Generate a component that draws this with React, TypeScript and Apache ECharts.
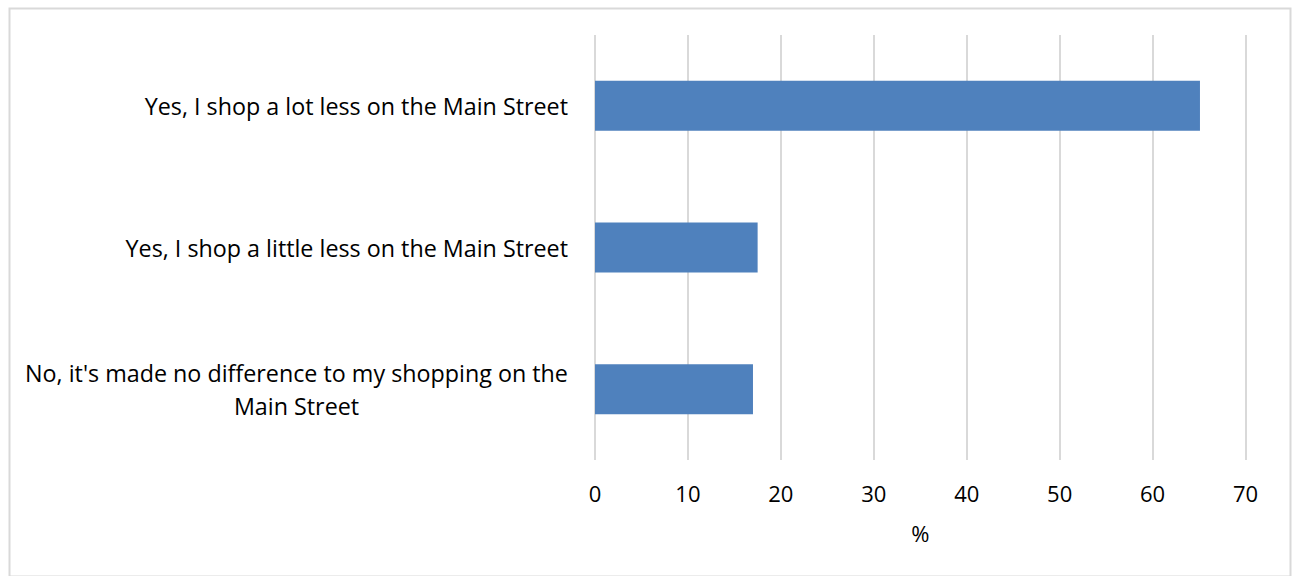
import React, { useEffect, useRef } from "react";
import * as echarts from "echarts";

const categories: string[] = [
  "Yes, I shop a lot less on the Main Street",
  "Yes, I shop a little less on the Main Street",
  "No, it's made no difference to my shopping on the\nMain Street",
];
const values: number[] = [65.1, 17.5, 17.0];
const xTicks = { min: 0, max: 70, interval: 10 };
const axisTitle = "%";

const FONT = "Open Sans";
const FS = 22;
const CFS = 23.3;

export default function App() {
  const ref = useRef<HTMLDivElement>(null);
  useEffect(() => {
    document.body.style.margin = "0";
    if (!ref.current) return;
    const chart = echarts.init(ref.current, undefined, { renderer: "svg" });
    chart.setOption({
      animation: false,
      backgroundColor: "#ffffff",
      textStyle: { fontFamily: FONT },
      graphic: [
        {
          type: "rect",
          left: 7,
          top: 6,
          shape: { width: 1281, height: 568 },
          style: { fill: "none", stroke: "#d9d9d9", lineWidth: 2 },
          silent: true,
        },
      ],
      grid: { left: 595, right: 47.5, top: 35, bottom: 116, containLabel: false },
      xAxis: {
        type: "value",
        min: xTicks.min,
        max: xTicks.max,
        interval: xTicks.interval,
        name: axisTitle,
        nameLocation: "middle",
        nameGap: 62,
        nameTextStyle: { fontSize: FS, color: "#000", fontFamily: FONT },
        axisLine: { show: false },
        axisTick: { show: false },
        axisLabel: { fontSize: FS, color: "#000", margin: 22, fontFamily: FONT },
        splitLine: { show: true, lineStyle: { color: "#d9d9d9", width: 2 } },
      },
      yAxis: {
        type: "category",
        data: categories,
        inverse: true,
        axisLine: { show: false },
        axisTick: { show: false },
        splitLine: { show: false },
        axisLabel: {
          margin: 27,
          color: "#000",
          fontSize: CFS,
          fontFamily: FONT,
          formatter: (v: string) =>
            v.includes("\n")
              ? v
                  .split("\n")
                  .map((l) => `{c|${l}}`)
                  .join("\n")
              : v,
          rich: {
            c: { width: 543, align: "center", fontSize: CFS, color: "#000", fontFamily: FONT, lineHeight: 33 },
          },
        },
      },
      series: [
        {
          type: "bar",
          data: values,
          barWidth: 50,
          itemStyle: { color: "#4f81bd" },
        },
      ],
    });
    return () => chart.dispose();
  }, []);
  return <div ref={ref} style={{ width: 1293, height: 576 }} />;
}
